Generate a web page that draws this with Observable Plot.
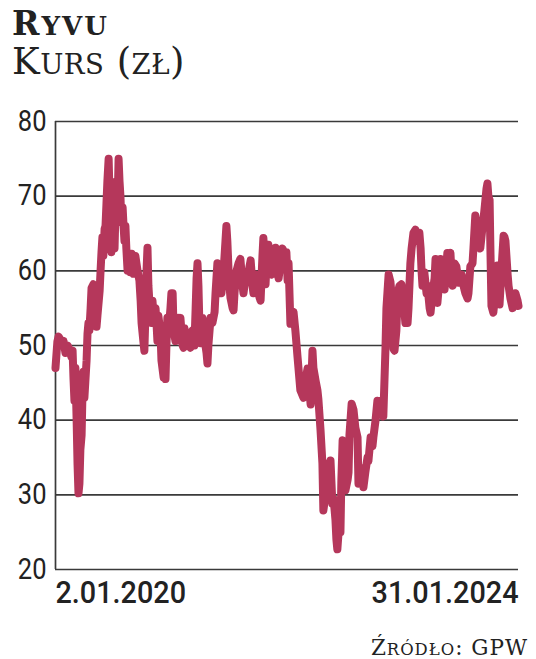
<!DOCTYPE html>
<html><head><meta charset="utf-8">
<script src="https://cdn.jsdelivr.net/npm/d3@7"></script>
<script src="https://cdn.jsdelivr.net/npm/@observablehq/plot@0.6"></script>
<style>
html,body{margin:0;padding:0;background:#fff;}
body{width:536px;height:659px;position:relative;overflow:hidden;}
.hd{position:absolute;left:12px;font-family:"DejaVu Serif",serif;line-height:1;color:#222;white-space:nowrap;}
#title{top:7px;font-weight:bold;font-size:33px;letter-spacing:2px;}
#title .sc{font-size:26px;text-transform:uppercase;}
#subtitle{top:43px;font-size:37px;letter-spacing:0.5px;}
#subtitle .sc{font-size:27.5px;text-transform:uppercase;}
#chart{position:absolute;left:0;top:90px;}
#source{position:absolute;right:8px;top:637px;font-family:"DejaVu Serif",serif;font-size:21.5px;line-height:1;letter-spacing:1px;color:#222;white-space:nowrap;}
#source .sc{font-size:16.4px;text-transform:uppercase;}
</style></head>
<body>
<div id="title" class="hd">R<span class="sc">yvu</span></div>
<div id="subtitle" class="hd">K<span class="sc">urs</span> (<span class="sc">zł</span>)</div>
<div id="chart"></div>
<div id="source">Ź<span class="sc">ródło</span>: GPW</div>
<script>
const d2020 = ["2020-01-02","2020-01-08","2020-01-12","2020-01-18","2020-01-25","2020-01-28","2020-02-03","2020-02-10","2020-02-16","2020-02-22","2020-02-26","2020-02-29","2020-03-03","2020-03-06","2020-03-10","2020-03-13","2020-03-16","2020-03-19","2020-03-22","2020-03-26","2020-03-29","2020-04-01","2020-04-04","2020-04-11","2020-04-14","2020-04-17","2020-04-20","2020-04-24","2020-04-27","2020-05-03","2020-05-10","2020-05-13","2020-05-16","2020-05-23","2020-05-26","2020-05-29","2020-06-01","2020-06-04","2020-06-08","2020-06-11","2020-06-14","2020-06-17","2020-06-21","2020-06-24","2020-06-27","2020-06-30","2020-07-03","2020-07-07","2020-07-10","2020-07-13","2020-07-16","2020-07-20","2020-07-23","2020-07-26","2020-07-29","2020-08-01","2020-08-05","2020-08-08","2020-08-11","2020-08-14","2020-08-17","2020-08-21","2020-08-24","2020-08-30","2020-09-03","2020-09-09","2020-09-15","2020-09-22","2020-09-28","2020-10-02","2020-10-05","2020-10-11","2020-10-14","2020-10-18","2020-10-21","2020-10-24","2020-10-27","2020-10-30","2020-11-03","2020-11-06","2020-11-09","2020-11-12","2020-11-19","2020-11-22","2020-11-25","2020-11-28","2020-12-05","2020-12-08","2020-12-15","2020-12-18","2020-12-21","2020-12-24","2020-12-27","2020-12-31"];
const p2020 = [47.0,50.5,51.2,50.8,50.0,50.6,49.0,50.0,49.5,48.5,49.3,45.5,42.6,47.0,40.0,34.0,30.2,31.5,36.0,38.0,44.0,46.5,43.0,48.0,51.6,53.0,52.0,55.0,57.7,58.2,55.0,52.5,54.0,57.3,60.0,62.5,64.5,62.0,65.6,66.0,69.0,72.0,75.0,70.0,64.0,62.5,66.0,64.0,63.0,68.0,72.0,69.0,75.0,72.0,70.0,66.5,68.5,66.0,64.0,66.0,63.0,60.0,62.0,59.8,62.3,59.6,62.0,60.0,58.7,56.0,53.0,50.5,49.3,55.0,60.0,63.1,58.0,56.0,55.6,53.0,56.0,54.5,55.0,53.0,50.6,54.0,51.6,48.0,45.7,47.0,45.5,50.0,53.7,52.0];

const d2021 = ["2021-01-06","2021-01-09","2021-01-13","2021-01-16","2021-01-22","2021-01-25","2021-02-01","2021-02-04","2021-02-07","2021-02-14","2021-02-17","2021-02-20","2021-02-27","2021-03-05","2021-03-11","2021-03-18","2021-03-24","2021-03-28","2021-03-31","2021-04-03","2021-04-06","2021-04-09","2021-04-13","2021-04-19","2021-04-25","2021-05-02","2021-05-05","2021-05-08","2021-05-15","2021-05-21","2021-05-28","2021-05-31","2021-06-03","2021-06-06","2021-06-10","2021-06-13","2021-06-19","2021-06-26","2021-07-02","2021-07-05","2021-07-08","2021-07-12","2021-07-15","2021-07-18","2021-07-25","2021-07-28","2021-07-31","2021-08-06","2021-08-13","2021-08-19","2021-08-26","2021-08-29","2021-09-04","2021-09-11","2021-09-17","2021-09-21","2021-09-27","2021-09-30","2021-10-07","2021-10-13","2021-10-19","2021-10-23","2021-10-26","2021-10-29","2021-11-01","2021-11-05","2021-11-08","2021-11-11","2021-11-17","2021-11-21","2021-11-27","2021-12-04","2021-12-10","2021-12-16","2021-12-20","2021-12-26"];
const p2021 = [55.0,57.0,57.0,52.0,50.6,52.0,53.7,51.0,53.7,50.0,49.7,52.3,51.0,50.0,49.7,52.0,50.0,55.0,59.0,61.0,58.0,53.0,50.3,53.7,51.0,49.0,47.6,50.0,53.7,53.0,54.5,57.0,59.0,61.0,60.0,58.5,57.0,60.0,64.0,66.0,64.0,60.0,58.0,56.4,55.0,54.7,57.0,59.9,61.0,61.6,58.0,57.0,59.0,58.5,60.5,61.4,58.0,57.0,59.5,58.0,56.5,56.0,59.0,62.0,64.4,61.0,58.2,61.0,63.5,60.0,59.5,61.0,63.1,60.0,59.0,61.0];

const d2022 = ["2022-01-01","2022-01-05","2022-01-11","2022-01-14","2022-01-18","2022-01-21","2022-01-27","2022-02-06","2022-02-12","2022-02-19","2022-02-28","2022-03-10","2022-03-17","2022-03-23","2022-03-29","2022-04-02","2022-04-08","2022-04-11","2022-04-18","2022-04-24","2022-04-27","2022-05-04","2022-05-10","2022-05-13","2022-05-20","2022-05-26","2022-05-30","2022-06-05","2022-06-11","2022-06-15","2022-06-21","2022-06-24","2022-06-27","2022-07-01","2022-07-07","2022-07-10","2022-07-14","2022-07-17","2022-07-23","2022-07-30","2022-08-02","2022-08-05","2022-08-12","2022-08-18","2022-08-24","2022-08-31","2022-09-03","2022-09-09","2022-09-16","2022-09-19","2022-09-25","2022-10-02","2022-10-05","2022-10-12","2022-10-18","2022-10-21","2022-10-28","2022-11-03","2022-11-10","2022-11-13","2022-11-19","2022-11-22","2022-11-29","2022-12-02","2022-12-09","2022-12-15","2022-12-18","2022-12-22","2022-12-25","2022-12-28"];
const p2022 = [63.0,62.7,61.0,62.5,58.7,61.0,52.9,54.5,52.0,48.4,44.0,43.0,45.5,46.9,44.0,42.1,49.3,47.0,45.3,44.0,42.8,38.6,34.2,27.9,30.0,34.2,33.0,34.6,28.8,29.5,26.6,24.0,22.7,25.0,25.0,32.0,37.3,37.0,30.6,32.0,33.0,38.0,42.2,41.4,39.0,37.7,31.5,33.0,33.5,31.0,33.0,35.0,34.5,37.7,36.5,37.7,40.0,42.6,41.5,42.6,41.0,40.5,49.7,55.0,59.5,58.5,57.0,55.6,49.5,49.3];

const d2023 = ["2023-01-03","2023-01-07","2023-01-13","2023-01-19","2023-01-26","2023-02-01","2023-02-08","2023-02-11","2023-02-14","2023-02-17","2023-02-21","2023-02-27","2023-03-05","2023-03-12","2023-03-18","2023-03-22","2023-03-25","2023-03-28","2023-04-03","2023-04-10","2023-04-13","2023-04-20","2023-04-23","2023-04-29","2023-05-06","2023-05-09","2023-05-15","2023-05-22","2023-05-25","2023-05-31","2023-06-07","2023-06-10","2023-06-16","2023-06-23","2023-06-26","2023-06-29","2023-07-03","2023-07-09","2023-07-15","2023-07-22","2023-08-01","2023-08-07","2023-08-13","2023-08-20","2023-08-23","2023-08-29","2023-09-05","2023-09-08","2023-09-14","2023-09-18","2023-09-21","2023-09-24","2023-09-30","2023-10-07","2023-10-13","2023-10-20","2023-10-23","2023-10-26","2023-10-30","2023-11-02","2023-11-05","2023-11-11","2023-11-15","2023-11-18","2023-11-24","2023-11-27","2023-12-01","2023-12-07","2023-12-14","2023-12-17","2023-12-20","2023-12-27","2023-12-30"];
const p2023 = [52.0,57.0,58.0,58.2,56.0,53.0,53.0,55.0,58.0,61.0,63.0,65.1,65.5,64.0,65.1,63.0,60.0,58.0,59.8,57.0,58.0,55.0,54.4,57.0,59.0,61.6,55.7,59.0,61.6,59.4,57.5,59.0,62.4,62.0,62.4,60.0,58.0,61.0,60.6,58.4,59.5,58.0,57.0,56.3,57.0,60.6,61.0,63.0,67.4,66.0,66.5,64.0,63.0,65.8,68.0,71.0,71.7,70.0,69.5,62.0,55.3,54.4,56.0,58.0,60.7,57.0,55.5,60.0,64.7,64.5,64.0,59.5,58.0];

const d2024 = ["2024-01-05","2024-01-12","2024-01-15","2024-01-21","2024-01-28","2024-01-31"];
const p2024 = [56.3,55.0,56.0,57.0,56.0,55.3];

const yTicks = [20,30,40,50,60,70,80];
const xLabelDates = ["2020-01-02","2024-01-31"];
const xLabels = ["2.01.2020","31.01.2024"];
const lineColor = "#b5375b";
const gridColor = "#3a3a3a";
const textColor = "#222";

const parse = d3.utcParse("%Y-%m-%d");
const data = [];
[[d2020,p2020],[d2021,p2021],[d2022,p2022],[d2023,p2023],[d2024,p2024]].forEach(([ds, ps]) => {
  ds.forEach((d, i) => data.push({date: parse(d), price: ps[i]}));
});
const xStart = parse(xLabelDates[0]);
const xEnd = parse(xLabelDates[1]);
const labelFont = "Roboto, 'DejaVu Sans Condensed', sans-serif";

const chart = Plot.plot({
  width: 536,
  height: 530,
  marginLeft: 55,
  marginRight: 18,
  marginTop: 31,
  marginBottom: 51,
  x: {type: "utc", domain: [xStart, xEnd], axis: null},
  y: {domain: [20, 80], axis: null},
  style: {background: "transparent", overflow: "visible"},
  marks: [
    Plot.ruleY(yTicks, {stroke: gridColor, strokeWidth: 1.7}),
    Plot.ruleX([xStart], {y1: 20, y2: 80, stroke: gridColor, strokeWidth: 1.7}),
    Plot.line(data, {x: "date", y: "price", stroke: lineColor, strokeWidth: 8, strokeLinejoin: "round", strokeLinecap: "round"}),
    Plot.text(yTicks, {x: () => xStart, y: d => d, text: d => String(d), textAnchor: "end", dx: -9, fontSize: 29, fontWeight: 400, fontFamily: labelFont, fill: textColor}),
    Plot.text([xLabels[0]], {x: () => xStart, y: () => 20, text: d => d, textAnchor: "start", lineAnchor: "top", dy: 11, fontSize: 32, fontWeight: 500, fontFamily: labelFont, fill: textColor}),
    Plot.text([xLabels[1]], {x: () => xEnd, y: () => 20, text: d => d, textAnchor: "end", lineAnchor: "top", dy: 11, fontSize: 32, fontWeight: 500, fontFamily: labelFont, fill: textColor})
  ]
});
document.getElementById("chart").appendChild(chart);

// narrow the label glyphs horizontally around their anchor
function squeeze(t, s) {
  const b = t.getBBox();
  const anchor = getComputedStyle(t).textAnchor;
  const ax = anchor === "end" ? b.x + b.width : anchor === "middle" ? b.x + b.width / 2 : b.x;
  const existing = t.getAttribute("transform") || "";
  t.setAttribute("transform", `${existing} translate(${ax},0) scale(${s},1) translate(${-ax},0)`);
}
chart.querySelectorAll("text").forEach(t => {
  if (xLabels.includes(t.textContent)) squeeze(t, 0.9);
  else if (yTicks.map(String).includes(t.textContent)) squeeze(t, 0.88);
});
</script>
</body></html>
